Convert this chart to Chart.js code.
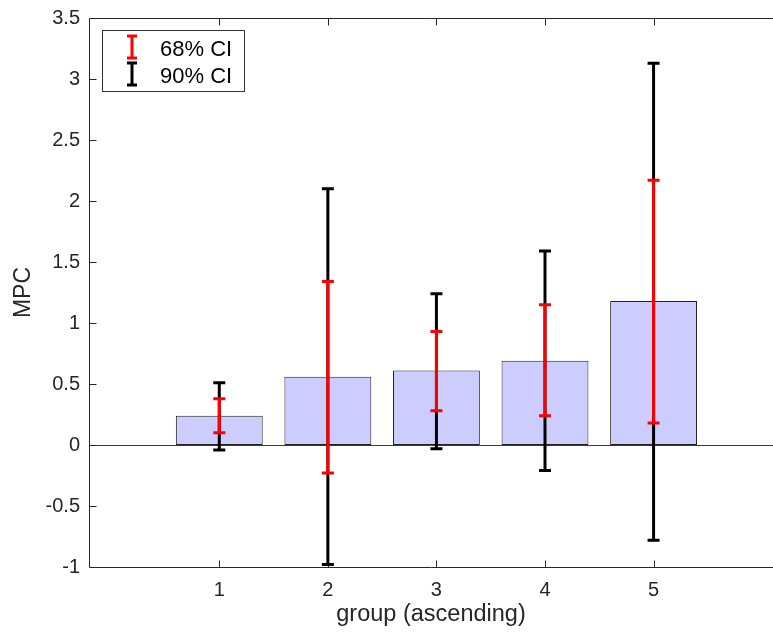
<!DOCTYPE html>
<html>
<head>
<meta charset="utf-8">
<script src="https://cdn.jsdelivr.net/npm/chart.js@4/dist/chart.umd.min.js"></script>
<style>
  html, body { margin: 0; padding: 0; background: #fff; }
  #wrap { width: 773px; height: 634px; }
</style>
</head>
<body>
<div id="wrap"><canvas id="chart"></canvas></div>
<script>
// values
var groups = [1, 2, 3, 4, 5];
var mpc = [0.24, 0.56, 0.61, 0.69, 1.18];
var ci68Low = [0.10, -0.23, 0.28, 0.24, 0.18];
var ci68High = [0.38, 1.34, 0.93, 1.15, 2.17];
var ci90Low = [-0.04, -0.98, -0.03, -0.21, -0.78];
var ci90High = [0.51, 2.10, 1.24, 1.59, 3.13];
var yTicks = [-1, -0.5, 0, 0.5, 1, 1.5, 2, 2.5, 3, 3.5];
var yTickLabels = ['-1', '-0.5', '0', '0.5', '1', '1.5', '2', '2.5', '3', '3.5'];
var seriesNames = ['MPC', '68% CI', '90% CI'];

var axisColor = '#262626';
Chart.defaults.font.family = '"Liberation Sans", Arial, Helvetica, sans-serif';
Chart.defaults.color = axisColor;

function pairs(lo, hi) {
    return groups.map(function(g, i) { return { x: g, y: [lo[i], hi[i]] }; });
}

// frame, zero line and inward ticks (MATLAB look)
var framePlugin = {
    id: 'frame',
    beforeDatasetsDraw: function(chart) {
        var ctx = chart.ctx;
        var a = chart.chartArea;
        var xs = chart.scales.x, ys = chart.scales.y;
        var L = Math.round(a.left) + 0.5, T = Math.round(a.top) + 0.5, B = Math.round(a.bottom) + 0.5;
        ctx.save();
        ctx.lineWidth = 1;
        // zero line
        var y0 = Math.round(ys.getPixelForValue(0)) + 0.5;
        ctx.strokeStyle = '#3a3a3a';
        ctx.beginPath(); ctx.moveTo(L, y0); ctx.lineTo(a.right, y0); ctx.stroke();
        ctx.strokeStyle = axisColor;
        ctx.beginPath();
        ctx.moveTo(a.right, T); ctx.lineTo(L, T); ctx.lineTo(L, B); ctx.lineTo(a.right, B);
        yTicks.forEach(function(v) {
            var p = Math.round(ys.getPixelForValue(v)) + 0.5;
            ctx.moveTo(L, p); ctx.lineTo(L + 7, p);
        });
        groups.forEach(function(g) {
            var p = Math.round(xs.getPixelForValue(g)) + 0.5;
            ctx.moveTo(p, B); ctx.lineTo(p, B - 7);
            ctx.moveTo(p, T); ctx.lineTo(p, T + 7);
        });
        ctx.stroke();
        ctx.restore();
    }
};

// caps on the error bars
var capPlugin = {
    id: 'caps',
    afterDatasetDraw: function(chart, args) {
        var ds = chart.data.datasets[args.index];
        if (!ds.ciBar) return;
        var ctx = chart.ctx;
        ctx.save();
        ctx.strokeStyle = ds.backgroundColor;
        ctx.lineWidth = 3;
        args.meta.data.forEach(function(el) {
            var p = el.getProps(['x', 'y', 'base'], true);
            ctx.beginPath();
            ctx.moveTo(p.x - 6, p.y); ctx.lineTo(p.x + 6, p.y);
            ctx.moveTo(p.x - 6, p.base); ctx.lineTo(p.x + 6, p.base);
            ctx.stroke();
        });
        ctx.restore();
    }
};

// boxed legend in the top-left corner
var legendPlugin = {
    id: 'boxLegend',
    afterDraw: function(chart) {
        var ctx = chart.ctx;
        var items = chart.data.datasets.filter(function(d) { return d.ciBar; });
        ctx.save();
        ctx.fillStyle = '#fff';
        ctx.fillRect(102.5, 30.5, 142, 61);
        ctx.strokeStyle = '#333';
        ctx.lineWidth = 1;
        ctx.strokeRect(102.5, 30.5, 142, 61);
        ctx.font = '22px "Liberation Sans", Arial, sans-serif';
        ctx.textBaseline = 'alphabetic';
        items.forEach(function(d, i) {
            var cy = 47 + i * 27;
            ctx.strokeStyle = d.backgroundColor;
            ctx.lineWidth = 3;
            ctx.beginPath();
            ctx.moveTo(132, cy - 11); ctx.lineTo(132, cy + 11);
            ctx.moveTo(127, cy - 11); ctx.lineTo(137, cy - 11);
            ctx.moveTo(127, cy + 11); ctx.lineTo(137, cy + 11);
            ctx.stroke();
            ctx.fillStyle = '#000';
            ctx.fillText(d.label, 160, cy + 9);
        });
        ctx.restore();
    }
};

var ctx = document.getElementById('chart');
new Chart(ctx, {
    type: 'bar',
    data: {
        datasets: [
            {
                label: seriesNames[0],
                data: groups.map(function(g, i) { return { x: g, y: mpc[i] }; }),
                backgroundColor: 'rgb(204,204,255)',
                borderColor: '#222',
                borderWidth: 1,
                borderSkipped: false,
                grouped: false,
                barPercentage: 0.8,
                categoryPercentage: 1.0,
                order: 3
            },
            {
                label: seriesNames[1],
                data: pairs(ci68Low, ci68High),
                backgroundColor: '#ff0000',
                borderWidth: 0,
                grouped: false,
                maxBarThickness: 3,
                ciBar: true,
                order: 1
            },
            {
                label: seriesNames[2],
                data: pairs(ci90Low, ci90High),
                backgroundColor: '#000000',
                borderWidth: 0,
                grouped: false,
                maxBarThickness: 3,
                ciBar: true,
                order: 2
            }
        ]
    },
    options: {
        responsive: true,
        maintainAspectRatio: false,
        animation: false,
        layout: { padding: { top: 18, right: 0, left: 0, bottom: 0 } },
        plugins: {
            legend: { display: false },
            tooltip: { enabled: false }
        },
        scales: {
            x: {
                type: 'linear',
                min: -0.2,
                max: 6.1,
                offset: false,
                afterBuildTicks: function(scale) {
                    scale.ticks = groups.map(function(g) { return { value: g }; });
                },
                afterFit: function(scale) {
                    scale.height = 67;
                    scale.paddingLeft = 0;
                    scale.paddingRight = 0;
                },
                ticks: {
                    font: { size: 20 },
                    padding: 11,
                    color: axisColor,
                    callback: function(v) { return String(v); }
                },
                grid: { display: false, drawTicks: false },
                border: { display: false },
                title: {
                    display: true,
                    text: 'group (ascending)',
                    font: { size: 23.5 },
                    color: axisColor,
                    padding: { top: 0, bottom: 5 }
                }
            },
            y: {
                min: -1,
                max: 3.5,
                afterBuildTicks: function(scale) {
                    scale.ticks = yTicks.map(function(v) { return { value: v }; });
                },
                afterFit: function(scale) {
                    scale.width = 89;
                    scale.paddingTop = 0;
                    scale.paddingBottom = 0;
                },
                ticks: {
                    font: { size: 20 },
                    padding: 9,
                    color: axisColor,
                    callback: function(v) { return yTickLabels[yTicks.indexOf(v)]; }
                },
                grid: { display: false, drawTicks: false },
                border: { display: false },
                title: {
                    display: true,
                    text: 'MPC',
                    font: { size: 23 },
                    color: axisColor,
                    padding: { top: 10, bottom: 0 }
                }
            }
        }
    },
    plugins: [framePlugin, capPlugin, legendPlugin]
});
</script>
</body>
</html>
